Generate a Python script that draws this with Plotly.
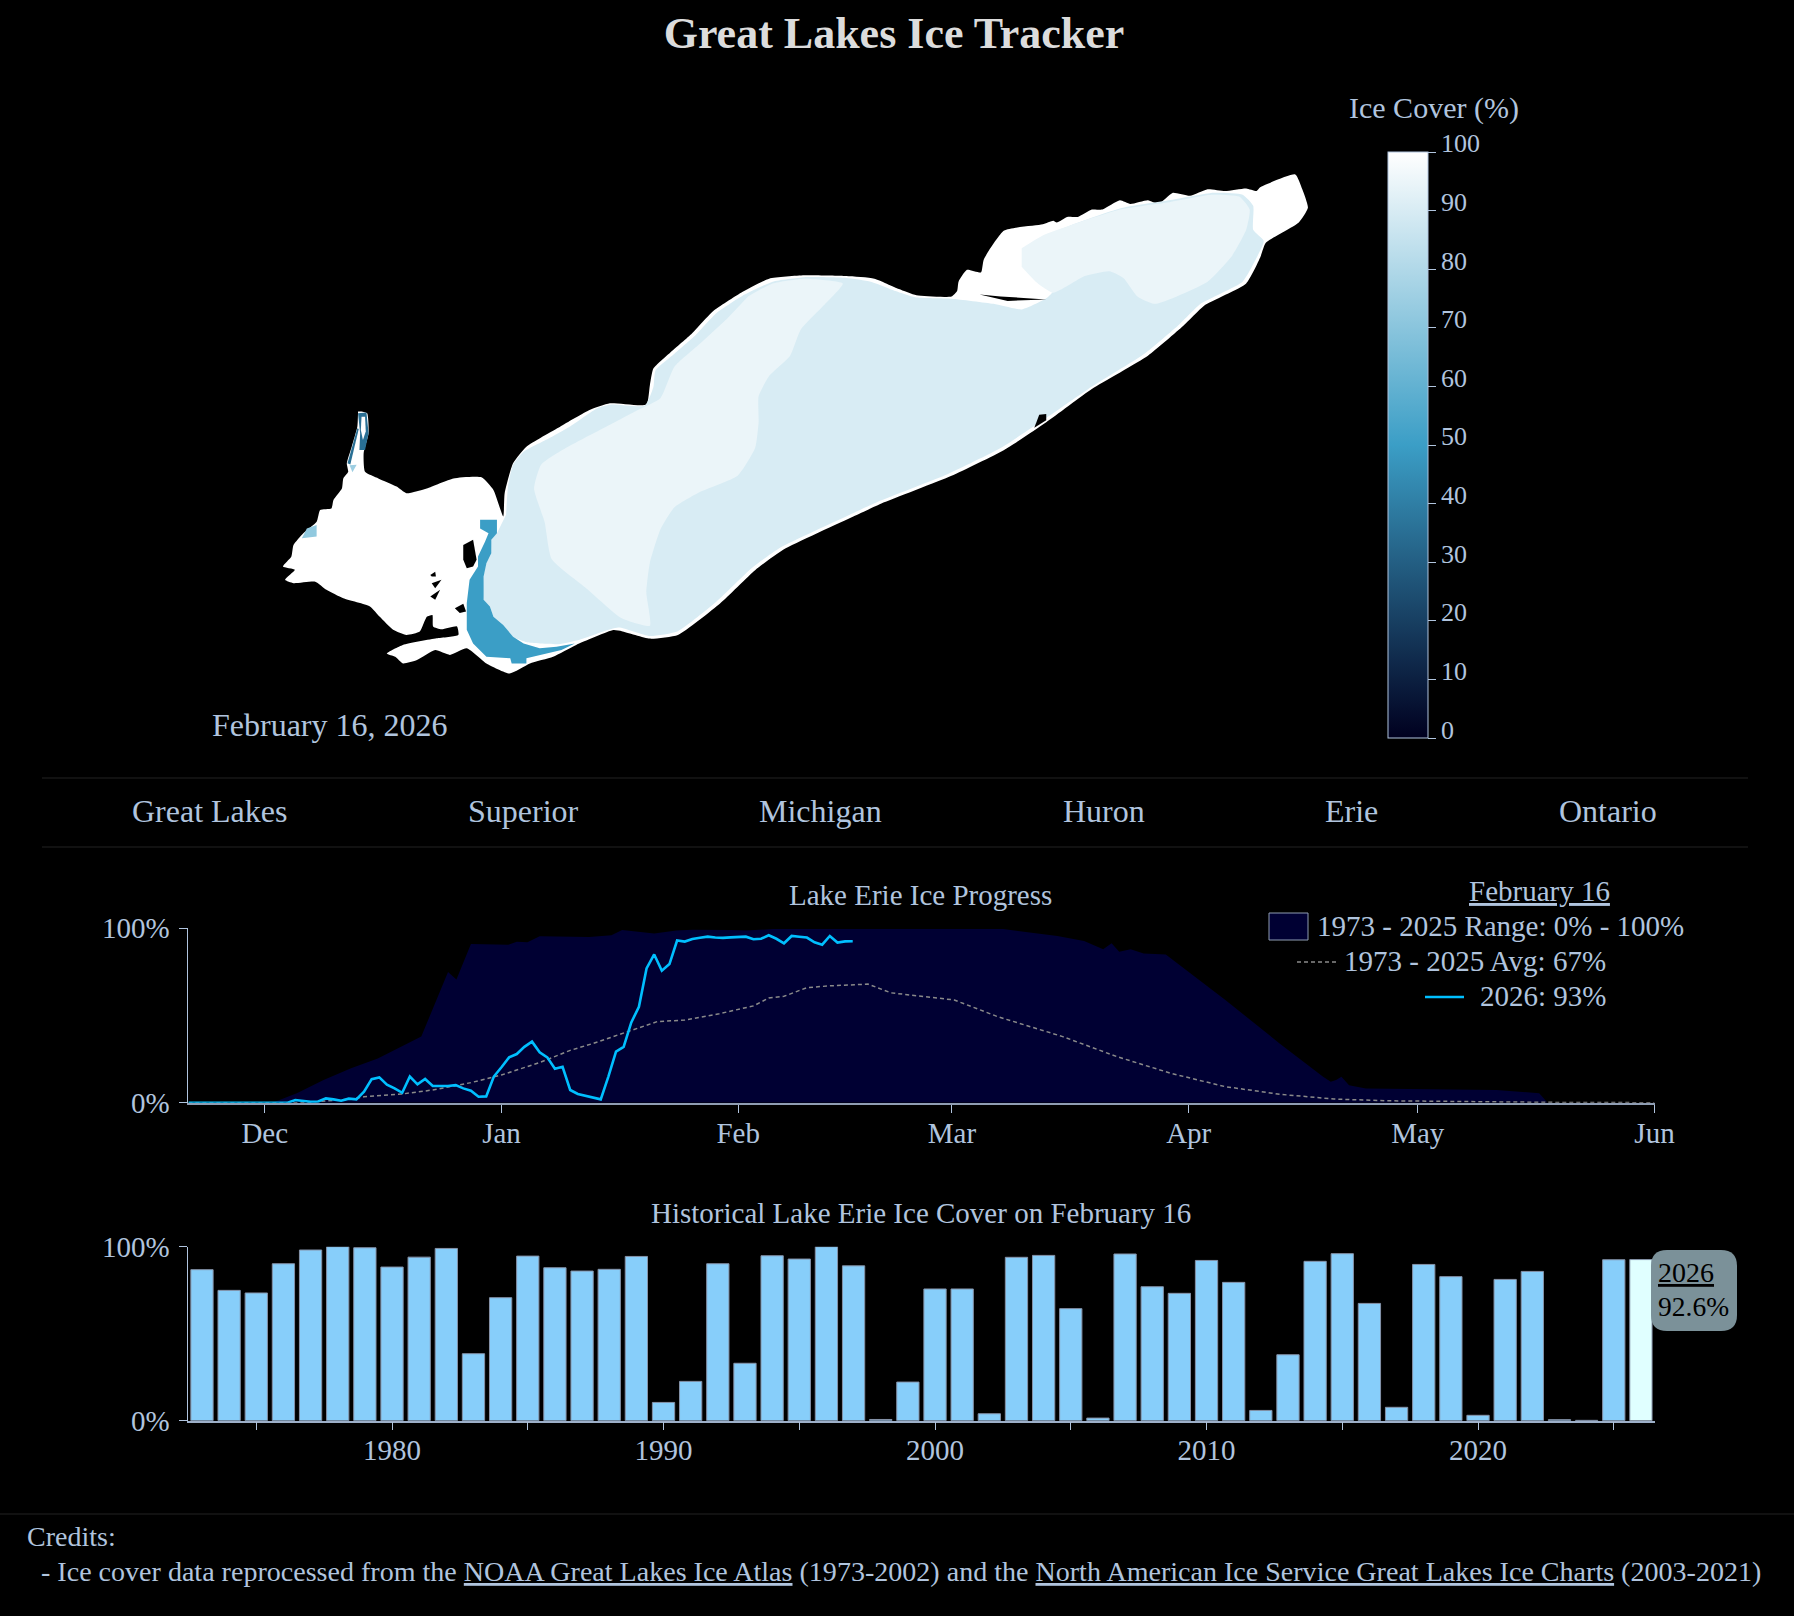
import pandas as pd
import plotly.graph_objects as go

W, H = 1794, 1616
SERIF = 'Liberation Serif, Times New Roman, serif'
STEEL = '#b0c4de'

# Ice cover colour scale
ice_scale = [[0, '#00001f'], [0.5, '#3b9ec6'], [1, '#ffffff']]
scale_ticks = list(range(0, 101, 10))

# Lake Erie outlines on the map grid (0-1568 both ways, y running down)
shore_x = [159, 167, 169, 162, 164, 183, 209, 223, 252, 290, 330, 347, 361, 363, 375, 394, 442, 484, 513, 565, 570, 575,
           600, 630, 660, 700, 740, 790, 850, 890, 925, 950, 1000, 1008, 1010, 1022, 1042, 1046, 1075, 1130, 1145, 1150,
           1165, 1180, 1200, 1215, 1240, 1255, 1280, 1295, 1315, 1340, 1365, 1390, 1420, 1435, 1440, 1490, 1500, 1508,
           1495, 1448, 1440, 1420, 1360, 1330, 1280, 1200, 1135,
           1075, 1000, 900, 860, 760, 720, 670, 610, 570, 530, 518, 465, 432, 399, 370, 337, 309, 285, 264, 238, 218,
           207, 195, 218, 266, 297, 295, 273, 261, 260, 252, 242, 223, 204, 185, 171, 133, 109, 93, 62, 50, 64, 47, 59,
           62, 76, 95, 100, 116, 119, 131, 133, 140, 138, 145, 153, 154]
shore_y = [761, 766, 820, 874, 924, 942, 964, 982, 969, 942, 939, 973, 1045, 982, 901, 856, 802, 757, 739, 742, 690, 645,
           600, 550, 490, 440, 402, 393, 395, 402, 430, 447, 450, 435, 410, 378, 385, 350, 272, 255, 245, 250,
           235, 235, 215, 215, 190, 200, 190, 200, 170, 178, 160, 165, 158, 165, 155, 120, 160, 210,
           250, 305, 345, 415, 475, 530, 610, 700, 790,
           865, 935, 1010, 1045, 1135, 1190, 1280, 1365, 1375, 1355, 1352, 1392, 1424, 1442, 1469, 1442, 1401, 1419,
           1406, 1433, 1442, 1424, 1415, 1392, 1374, 1365, 1342, 1350, 1342, 1311, 1316, 1356, 1365, 1351, 1316, 1288,
           1266, 1243, 1221, 1225, 1216, 1189, 1180, 1153, 1122, 1090, 1059, 1027, 1023, 1000, 969, 942, 924, 901, 856,
           802, 761]

open_x = [352, 344, 344, 337, 333, 333, 342, 347, 361, 375, 395, 440, 470, 525, 570, 610, 665, 715, 755, 855, 895, 995,
          1070, 1130, 1195, 1275, 1325, 1355, 1415, 1435, 1445, 1430, 1430, 1415, 1370, 1310, 1240, 1130, 1110, 1120,
          1145, 1135, 1100, 1060, 1000, 948, 920, 885, 850, 790, 745, 705, 665, 635, 605, 578, 575, 563, 515, 495, 455,
          425, 390, 375, 368, 365]
open_y = [1090, 1108, 1144, 1171, 1207, 1270, 1288, 1316, 1338, 1370, 1385, 1390, 1378, 1345, 1368, 1355, 1275, 1185,
          1130, 1040, 1005, 930, 860, 785, 700, 605, 525, 470, 410, 345, 300, 270, 205, 175, 170, 190, 212, 290, 340,
          400, 435, 455, 485, 470, 456, 452, 435, 410, 400, 398, 410, 445, 495, 555, 605, 650, 695, 745, 742, 752, 803,
          835, 870, 905, 960, 1040]

central_x = [710, 745, 790, 845, 820, 785, 770, 740, 725, 725, 720, 695, 640, 605, 585, 570, 565, 570, 530, 480, 430,
             420, 405, 415, 450, 520, 555, 585, 605, 640, 680]
central_y = [450, 415, 402, 415, 470, 540, 610, 665, 720, 790, 860, 935, 980, 1020, 1080, 1170, 1250, 1340, 1320, 1240,
             1160, 1060, 970, 905, 860, 790, 755, 725, 640, 580, 510]

east_x = [1100, 1130, 1240, 1310, 1370, 1410, 1425, 1420, 1400, 1365, 1290, 1265, 1245, 1225, 1190, 1145, 1120, 1100]
east_y = [320, 285, 215, 195, 175, 180, 215, 270, 340, 410, 470, 450, 400, 382, 395, 440, 410, 370]

bay_x = [328, 352, 352, 344, 344, 337, 333, 333, 342, 347, 361, 375, 390, 413, 437, 463, 444, 423, 394, 394, 373, 371,
         337, 318, 309, 309, 313, 325, 325, 335, 340, 328]
bay_y = [1054, 1054, 1090, 1108, 1144, 1171, 1207, 1270, 1288, 1316, 1338, 1370, 1388, 1401, 1397, 1388, 1406, 1415,
         1428, 1442, 1442, 1428, 1424, 1388, 1351, 1279, 1216, 1180, 1153, 1113, 1090, 1077]

river_x = [154, 166, 169, 164, 156, 157]
river_y = [766, 764, 820, 865, 865, 820]
river_core_x = [159, 164, 165, 161, 158]
river_core_y = [775, 775, 815, 838, 811]
river_arm_x = [153, 155, 143, 139]
river_arm_y = [806, 808, 904, 901]
river_tip_x = [142, 152, 146]
river_tip_y = [906, 905, 925]
marsh_x = [74, 81, 95, 95]
marsh_y = [1104, 1077, 1068, 1099]

# Land showing through the ice: islands and Long Point
land_shapes = [
    ([304, 318, 323, 318, 309, 304], [1122, 1108, 1162, 1180, 1185, 1162]),
    ([257, 264, 265, 259], [1203, 1194, 1207, 1207]),
    ([259, 273, 264], [1225, 1216, 1239]),
    ([257, 271, 264], [1261, 1243, 1270]),
    ([292, 304, 308, 299], [1293, 1281, 1302, 1306]),
    ([1040, 1070, 1135, 1080], [445, 450, 458, 462]),
    ([1125, 1135, 1135, 1118], [770, 768, 785, 805]),
]

# Ice cover of each map zone, percent
shore_pct = 100
open_pct = 90
central_pct = 95
east_pct = 95
bay_pct = 50
river_pct = 35
tip_pct = 75
marsh_pct = 72

# Season curves, days counted from Nov 21
season_start = '2025-11-21'
cover_2026 = [0, 0, 0, 0, 0, 0, 0, 0, 0, 0, 0, 0, 0, 0, 1.5, 1.1, 0.5, 0.7, 2.5, 1.9, 1.1, 2.3, 1.9, 6.3, 13.5, 14.5, 10.3,
              8.2, 5.7, 15, 10.5, 13.6, 9.6, 9.6, 9.6, 10.1, 8.2, 6.9, 3.4, 3.6, 15, 20.3, 26, 27.9, 32, 35, 28.9, 26,
              19.5, 20.6, 7.3, 5, 4, 3, 1.9, 15, 29.3, 32, 46, 55, 77, 85, 75.7, 79.5, 93, 92.4, 93.9, 94.6, 95.2, 94.7,
              94.5, 94.8, 95, 95.2, 93.7, 94, 96, 94, 91.4, 95.6, 95.2, 94.7, 92, 90.6, 95.6, 91.8, 92.5, 92.6]

avg_days = [0, 15, 21, 23, 28, 32, 37, 41, 46, 50, 53, 57, 61.4, 65, 69.5, 74, 76, 78, 81, 84, 86, 89, 92, 96.5, 100.3,
            106, 114.5, 121.6, 128.7, 135.8, 143, 150, 157, 164, 171, 178, 192]
avg_cover = [0, 0, 1.9, 3.4, 5, 7.3, 11.5, 15.9, 23, 30, 34, 40, 46.5, 47.4, 51, 55.5, 60, 61, 66, 67, 67.5, 68, 63, 61,
             58.9, 49.3, 37.9, 26.4, 16.8, 9.2, 4.8, 2.1, 1.1, 0.8, 0.4, 0.2, 0]

max_days = [0, 11, 14.2, 17.7, 21.3, 24.8, 30.5, 31.2, 32.6, 34, 35.1, 37, 41.9, 43, 44.4, 46, 52.5, 55.4, 56.8, 61,
            63.9, 66, 71, 73, 76.6, 106.7, 113.8, 117.3, 119.8, 120.9, 121.9, 123.4, 125.1, 128, 135.8, 142.9, 148.6,
            149.6, 150.3, 151, 152, 154.2, 171.3, 176.9, 178, 192]
max_cover = [0, 0, 5.4, 13, 19.7, 25.4, 37.9, 45.5, 60.8, 75, 70.7, 91, 90.6, 92.3, 92, 95.4, 95, 96, 99, 97, 98.7, 99.2,
             99, 98.7, 99.6, 99.6, 95.6, 92.7, 88, 91.4, 86.6, 88, 85.5, 85, 58.9, 34, 14.9, 12, 13, 14.9, 10, 8.2, 7.3,
             5.4, 0, 0]

# Feb 16 cover by year
years = list(range(1973, 2027))
feb16_cover = [86.8, 74.9, 73.4, 90.2, 98.1, 100, 99.4, 88.3, 94, 99, 38.5, 70.7, 94.6, 87.9, 86, 87, 94.4, 10.5, 22.6,
               90.2, 33, 94.8, 92.9, 100, 89, 0.7, 22.2, 75.7, 75.7, 4, 93.9, 95, 64.4, 1.5, 95.8, 77, 73.2, 92.1, 79.5,
               5.9, 37.9, 91.6, 96, 67.4, 7.7, 89.8, 82.8, 3.1, 81.2, 85.8, 0.6, 0.2, 92.5, 92.6]
year_ticks = list(range(1975, 2026, 5))
year_labels = [str(y) if y % 10 == 0 else '' for y in year_ticks]

lake_tabs = ['Great Lakes', 'Superior', 'Michigan', 'Huron', 'Erie', 'Ontario']
tab_centers = [209, 523, 820, 1104, 1351, 1608]

RANGE_FILL = '#000033'


def px(x):
    return x / W


def py(y):
    return 1 - y / H


def ice_color(pct):
    # same ramp as the colour bar
    lo, mid, hi = (0, 0, 31), (59, 158, 198), (255, 255, 255)
    if pct <= 50:
        a, b, t = lo, mid, pct / 50
    else:
        a, b, t = mid, hi, (pct - 50) / 50
    r, g, bl = [round(a[i] + (b[i] - a[i]) * t) for i in range(3)]
    return f'rgb({r},{g},{bl})'


def text(x, y, s, size, color=STEEL, anchor='center'):
    return dict(x=px(x), y=py(y), xref='paper', yref='paper', text=s, showarrow=False, xanchor=anchor, yanchor='middle',
                font=dict(family=SERIF, size=size, color=color))


def line(x0, y0, x1, y1, color, width=1, dash='solid'):
    return dict(type='line', xref='paper', yref='paper', x0=px(x0), y0=py(y0), x1=px(x1), y1=py(y1),
                line=dict(color=color, width=width, dash=dash))


fig = go.Figure()


def add_zone(xs, ys, color, shape='spline'):
    fig.add_trace(go.Scatter(x=xs, y=ys, mode='lines', fill='toself', fillcolor=color,
                             line=dict(width=0, color=color, shape=shape, smoothing=0.5),
                             xaxis='x', yaxis='y', hoverinfo='skip', showlegend=False))


# Map
add_zone(shore_x, shore_y, ice_color(shore_pct))
add_zone(open_x, open_y, ice_color(open_pct))
add_zone(central_x, central_y, ice_color(central_pct))
add_zone(east_x, east_y, ice_color(east_pct))
add_zone(bay_x, bay_y, ice_color(bay_pct), 'linear')
add_zone(river_x, river_y, ice_color(river_pct), 'linear')
add_zone(river_core_x, river_core_y, ice_color(shore_pct), 'linear')
add_zone(river_arm_x, river_arm_y, ice_color(river_pct), 'linear')
add_zone(river_tip_x, river_tip_y, ice_color(tip_pct), 'linear')
add_zone(marsh_x, marsh_y, ice_color(marsh_pct), 'linear')
for land_x, land_y in land_shapes:
    add_zone(land_x, land_y, '#000000', 'linear')

# Colour bar, carried by an empty trace
fig.add_trace(go.Scatter(
    x=[None], y=[None], mode='markers', xaxis='x', yaxis='y', showlegend=False,
    marker=dict(color=[0], cmin=0, cmax=100, colorscale=ice_scale, showscale=True,
                colorbar=dict(x=px(1388), xanchor='left', xpad=0, y=py(152), yanchor='top', ypad=0,
                              lenmode='pixels', len=586, thicknessmode='pixels', thickness=40,
                              outlinecolor=STEEL, outlinewidth=1, tick0=0, dtick=10, ticks='outside', ticklen=8,
                              tickcolor=STEEL, showticklabels=False))))

# Progress chart
day0 = pd.Timestamp(season_start)
fig.add_trace(go.Scatter(x=day0 + pd.to_timedelta(max_days, unit='D'), y=max_cover, mode='lines', fill='tozeroy',
                         fillcolor=RANGE_FILL, line=dict(width=0, color=RANGE_FILL), xaxis='x2', yaxis='y2',
                         name='Range', showlegend=False))
fig.add_trace(go.Scatter(x=day0 + pd.to_timedelta(avg_days, unit='D'), y=avg_cover, mode='lines',
                         line=dict(color='#8a8a8a', width=1.5, dash='4px,3px'), xaxis='x2', yaxis='y2', name='Avg',
                         showlegend=False))
fig.add_trace(go.Scatter(x=pd.date_range(season_start, periods=len(cover_2026)), y=cover_2026, mode='lines',
                         line=dict(color='#00bfff', width=2.6), xaxis='x2', yaxis='y2', name='2026', showlegend=False))

# History chart
bar_colors = ['#87cefa'] * (len(years) - 1) + ['#e0ffff']
fig.add_trace(go.Bar(x=years, y=feb16_cover, width=0.82, marker=dict(color=bar_colors, line=dict(color='#8592a8', width=1)),
                     xaxis='x3', yaxis='y3', showlegend=False))

tick_font = dict(family=SERIF, size=29, color=STEEL)
axis_style = dict(showgrid=False, zeroline=False, showline=True, ticks='outside', ticklen=8, tickcolor=STEEL,
                  tickwidth=1, tickfont=tick_font)
y_left = px(188.4)
x_right = px(1654.5)

# Hover style label beside the 2026 bar
x0, x1, y0, y1, r = 1651, 1737, 1250, 1331, 16
tip_path = (f'M {px(x0 + r)} {py(y0)} L {px(x1 - r)} {py(y0)} Q {px(x1)} {py(y0)} {px(x1)} {py(y0 + r)} '
            f'L {px(x1)} {py(y1 - r)} Q {px(x1)} {py(y1)} {px(x1 - r)} {py(y1)} L {px(x0 + r)} {py(y1)} '
            f'Q {px(x0)} {py(y1)} {px(x0)} {py(y1 - r)} L {px(x0)} {py(y0 + r)} Q {px(x0)} {py(y0)} {px(x0 + r)} {py(y0)} Z')

fig.update_layout(
    width=W, height=H, autosize=False, margin=dict(l=0, r=0, t=0, b=0, autoexpand=False),
    paper_bgcolor='#000000', plot_bgcolor='#000000', hovermode='closest', showlegend=False,
    title=dict(text='<b>Great Lakes Ice Tracker</b>', x=px(894), xanchor='center', y=py(33), yanchor='middle',
               font=dict(family=SERIF, size=44, color='#dcdcdc')),
    xaxis=dict(domain=[px(250), px(1350)], range=[0, 1568], visible=False, fixedrange=True),
    yaxis=dict(domain=[py(710), py(130)], range=[1568, 0], visible=False, fixedrange=True),
    xaxis2=dict(axis_style, domain=[y_left, x_right], anchor='y2', type='date', range=[season_start, '2026-06-01'],
                tick0='2025-12-01', dtick='M1', tickformat='%b', linecolor='#8f9db3', linewidth=2,
                ticklabelstandoff=-5),
    yaxis2=dict(axis_style, domain=[py(1102.7), py(928.3)], anchor='x2', range=[0, 100], tickvals=[0, 100],
                ticktext=['0%', '100%'], linecolor=STEEL, linewidth=1, ticklabelstandoff=4),
    xaxis3=dict(axis_style, domain=[y_left, x_right], anchor='y3', range=[1972.5, 2026.5], tickvals=year_ticks,
                ticktext=year_labels, linecolor='#9dafc8', linewidth=1.5, ticklabelstandoff=-5),
    yaxis3=dict(axis_style, domain=[py(1420.7), py(1246.7)], anchor='x3', range=[0, 100], tickvals=[0, 100],
                ticktext=['0%', '100%'], linecolor=STEEL, linewidth=1, ticklabelstandoff=4),
    shapes=[
        line(42, 778, 1748, 778, '#222222'),
        line(42, 847, 1748, 847, '#222222'),
        line(0, 1514, W, 1514, '#222222'),
        dict(type='rect', xref='paper', yref='paper', x0=px(1269), x1=px(1308), y0=py(940), y1=py(913),
             fillcolor=RANGE_FILL, line=dict(color='#8f9db3', width=1)),
        line(1297, 962, 1337, 962, '#8a8a8a', 1.5, '4px,3px'),
        line(1425, 997, 1464, 997, '#00bfff', 2.6),
        dict(type='path', xref='paper', yref='paper', path=tip_path, fillcolor='#7b9199', line=dict(width=0)),
    ],
    annotations=[
        *[text(1439, 738 - v * 5.86 - 8, str(v), 26, anchor='left') for v in scale_ticks],
        text(1434, 108, 'Ice Cover (%)', 30),
        text(210, 725, 'February 16, 2026', 32, anchor='left'),
        *[text(c, 811, t, 32) for c, t in zip(tab_centers, lake_tabs)],
        text(920.5, 895, 'Lake Erie Ice Progress', 29),
        text(1539, 891, '<u>February 16</u>', 29),
        text(1686, 926, '1973 - 2025 Range: 0% - 100%', 29, anchor='right'),
        text(1608, 961, '1973 - 2025 Avg: 67%', 29, anchor='right'),
        text(1608, 996, '2026: 93%', 29, anchor='right'),
        text(921, 1213, 'Historical Lake Erie Ice Cover on February 16', 29),
        text(1656, 1272, '<u>2026</u>', 28, '#000000', 'left'),
        text(1656, 1306, '92.6%', 27.5, '#000000', 'left'),
        text(25, 1536, 'Credits:', 28, anchor='left'),
        text(39, 1571, '- Ice cover data reprocessed from the <u>NOAA Great Lakes Ice Atlas</u> (1973-2002) and the '
                       '<u>North American Ice Service Great Lakes Ice Charts</u> (2003-2021)', 28.05, anchor='left'),
    ],
)

fig.write_html('out.html', config=dict(displayModeBar=False),
               post_script="document.body.style.margin='0';document.body.style.background='#000';"
                           "document.documentElement.style.overflow='hidden';")
